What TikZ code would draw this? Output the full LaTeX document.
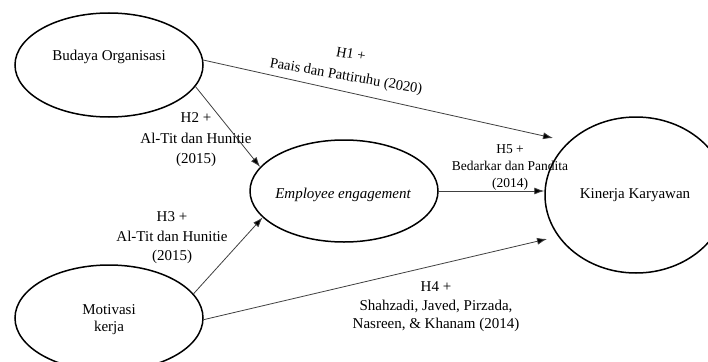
\documentclass[tikz,border=0pt]{standalone}
\usepackage{fontspec}
\setmainfont{Liberation Serif}
\usetikzlibrary{shapes.geometric,arrows.meta}
\begin{document}
\begin{tikzpicture}[x=1pt,y=-1pt,
  var/.style={ellipse,draw=black,line width=1.5pt,inner sep=0pt},
  txt/.style={inner sep=0pt,align=center,font=\fontsize{15}{20}\selectfont},
  arr/.style={draw=black!75,line width=0.8pt,-{Latex[length=10pt,width=7pt,fill=black]}}]
\clip (0,0) rectangle (708,361);
\fill[white] (0,0) rectangle (708,361);
% variables
\node[var,minimum width=188pt,minimum height=104pt] (bo) at (109,65) {};
\node[var,minimum width=188pt,minimum height=102pt] (ee) at (344,191) {};
\node[var,minimum width=188pt,minimum height=106pt] (mk) at (109,318) {};
\node[var,minimum width=182pt,minimum height=156pt] (kk) at (636,195) {};
\node[txt] (bot) at (109,57) {Budaya Organisasi};
\node[txt] (eet) at (343,195) {\itshape Employee engagement};
\node[txt,font=\fontsize{15}{17}\selectfont] (mkt) at (109,320) {Motivasi\\kerja};
\node[txt] (kkt) at (635,195) {Kinerja Karyawan};
% free arrow ends
\coordinate (t1) at (553,138);
\coordinate (t4) at (547,239);
% connectors
\draw[arr] (bo.3) -- (t1);
\draw[arr] (bo.-14) -- (ee.164);
\draw[arr] (mk.16) -- (ee.-162);
\draw[arr] (mk.-1) -- (t4);
\draw[arr] (ee.east) -- (ee.east -| kk.west);
% labels
\node[txt,rotate=-10,font=\fontsize{14.5}{20}\selectfont] (l1a) at (351,54) {H1 +};
\node[txt,rotate=-10,font=\fontsize{14.5}{20}\selectfont] (l1b) at (346,77) {Paais dan Pattiruhu (2020)};
\node[txt,font=\fontsize{15}{20.5}\selectfont] (l2) at (196,140) {H2 +\\Al-Tit dan Hunitie\\(2015)};
\node[txt,font=\fontsize{15}{19.5}\selectfont] (l3) at (172,238) {H3 +\\Al-Tit dan Hunitie\\(2015)};
\node[txt,font=\fontsize{13.5}{17}\selectfont] (l5) at (510,168) {H5 +\\Bedarkar dan Pandita\\(2014)};
\node[txt,font=\fontsize{15}{18.5}\selectfont] (l4) at (436,307) {H4 +\\Shahzadi, Javed, Pirzada,\\Nasreen, \& Khanam (2014)};
\end{tikzpicture}
\end{document}
